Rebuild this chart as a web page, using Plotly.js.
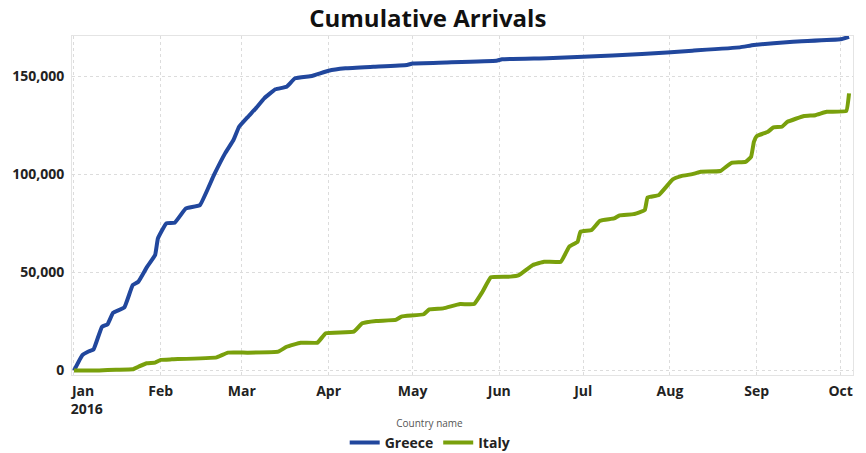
<!DOCTYPE html>
<html>
<head>
<meta charset="utf-8">
<script src="https://cdn.plot.ly/plotly-3.0.1.min.js"></script>
<style>html,body{margin:0;padding:0;background:#fff;}#chart{width:866px;height:453px;}</style>
</head>
<body>
<div id="chart"></div>
<script>
const greeceDates = ["2016-01-01","2016-01-04","2016-01-06","2016-01-08","2016-01-11","2016-01-13","2016-01-15","2016-01-19","2016-01-22","2016-01-24","2016-01-27","2016-01-30","2016-01-31","2016-02-03","2016-02-06","2016-02-10","2016-02-15","2016-02-20","2016-02-24","2016-02-27","2016-02-29","2016-03-03","2016-03-06","2016-03-09","2016-03-13","2016-03-17","2016-03-20","2016-03-26","2016-04-01","2016-04-07","2016-04-17","2016-04-29","2016-05-01","2016-05-13","2016-05-31","2016-06-02","2016-06-18","2016-07-01","2016-07-22","2016-08-09","2016-08-26","2016-08-31","2016-09-14","2016-10-01","2016-10-04"];
const greeceValues = [0,7900,9600,10800,22300,23600,29500,32200,43600,45300,52600,58900,67400,75100,75400,82700,84400,99700,110800,117600,124400,129200,133800,138900,143500,144800,149100,150300,153000,154200,155000,155900,156700,157200,158100,158800,159300,160100,161500,163200,164900,166100,167800,169000,170300];

const italyDates = ["2016-01-01","2016-01-10","2016-01-16","2016-01-22","2016-01-24","2016-01-27","2016-01-30","2016-02-01","2016-02-05","2016-02-21","2016-02-25","2016-03-03","2016-03-14","2016-03-17","2016-03-22","2016-03-28","2016-03-31","2016-04-10","2016-04-13","2016-04-18","2016-04-25","2016-04-27","2016-05-05","2016-05-07","2016-05-12","2016-05-18","2016-05-23","2016-05-26","2016-05-29","2016-06-05","2016-06-08","2016-06-13","2016-06-17","2016-06-23","2016-06-26","2016-06-29","2016-06-30","2016-07-04","2016-07-07","2016-07-12","2016-07-14","2016-07-19","2016-07-23","2016-07-24","2016-07-28","2016-08-02","2016-08-05","2016-08-09","2016-08-12","2016-08-19","2016-08-23","2016-08-28","2016-08-30","2016-08-31","2016-09-01","2016-09-05","2016-09-07","2016-09-10","2016-09-12","2016-09-18","2016-09-22","2016-09-26","2016-10-03","2016-10-04"];
const italyValues = [0,0,400,600,1900,3700,4000,5400,5700,6700,9100,9100,9600,12100,14200,14200,19000,19800,24100,25300,25800,27500,28700,31200,31700,33900,33900,40200,47600,47900,48700,53800,55500,55500,63200,65700,70800,71700,76400,77600,79200,79800,81900,88300,89500,97500,99200,100200,101400,101800,106000,106500,109100,116700,119600,121800,124100,124400,126900,129900,130300,132000,132400,141400];

const seriesNames = ["Greece", "Italy"];
const yTickVals = [0, 50000, 100000, 150000];
const xTickVals = ["2016-01-01","2016-02-01","2016-03-01","2016-04-01","2016-05-01","2016-06-01","2016-07-01","2016-08-01","2016-09-01","2016-10-01"];
const NB = "\u00a0";
const xTickText = [NB.repeat(5) + "Jan<br>" + NB.repeat(7) + "2016","Feb","Mar","Apr","May","Jun","Jul","Aug","Sep","Oct"];

const FONT = "'Open Sans', 'Noto Sans', sans-serif";

const traces = [
  {x: greeceDates, y: greeceValues, name: seriesNames[0], type: 'scatter', mode: 'lines',
   line: {color: '#21479d', width: 4, shape: 'spline', smoothing: 0.3}},
  {x: italyDates, y: italyValues, name: seriesNames[1], type: 'scatter', mode: 'lines',
   line: {color: '#79a00c', width: 4, shape: 'spline', smoothing: 0.3}}
];

const layout = {
  width: 866, height: 453,
  margin: {l: 72, r: 13, t: 36, b: 78, autoexpand: false},
  paper_bgcolor: '#fff', plot_bgcolor: '#fff',
  font: {family: FONT, color: '#252525'},
  title: {text: 'Cumulative Arrivals', font: {family: FONT, size: 24, weight: 'bold', color: '#111'},
          x: 0.494, xanchor: 'center', y: 0.96, yref: 'container', yanchor: 'middle'},
  xaxis: {
    type: 'date', automargin: false,
    range: ['2015-12-31 07:00', '2016-10-05 10:00'],
    tickmode: 'array', tickvals: xTickVals, ticktext: xTickText, tickangle: 0,
    tickfont: {family: FONT, size: 14, weight: 'bold', color: '#222'},
    showgrid: true, gridcolor: '#dcdcdc', griddash: '3px,3px', gridwidth: 1,
    showline: true, mirror: true, linecolor: '#e4e4e4', linewidth: 1,
    ticks: 'outside', ticklen: 3, tickcolor: 'rgba(0,0,0,0)', zeroline: false, fixedrange: true
  },
  yaxis: {
    automargin: false,
    range: [-2300, 170700],
    tickvals: yTickVals, tickformat: ',',
    tickfont: {family: FONT, size: 14, weight: 'bold', color: '#222'},
    showgrid: true, gridcolor: '#dcdcdc', griddash: '3px,3px', gridwidth: 1,
    showline: true, mirror: true, linecolor: '#e4e4e4', linewidth: 1,
    ticks: 'outside', ticklen: 4, tickcolor: 'rgba(0,0,0,0)', zeroline: false, fixedrange: true
  },
  showlegend: true,
  legend: {
    orientation: 'h', x: 0.458, xanchor: 'center',
    y: -0.115, yanchor: 'top',
    title: {text: 'Country name', side: 'top center', font: {family: FONT, size: 10, weight: 'normal', color: '#555'}},
    font: {family: FONT, size: 14, weight: 'bold', color: '#222'},
    tracegroupgap: 0
  }
};

Plotly.newPlot('chart', traces, layout, {staticPlot: true, displayModeBar: false});
</script>
</body>
</html>
